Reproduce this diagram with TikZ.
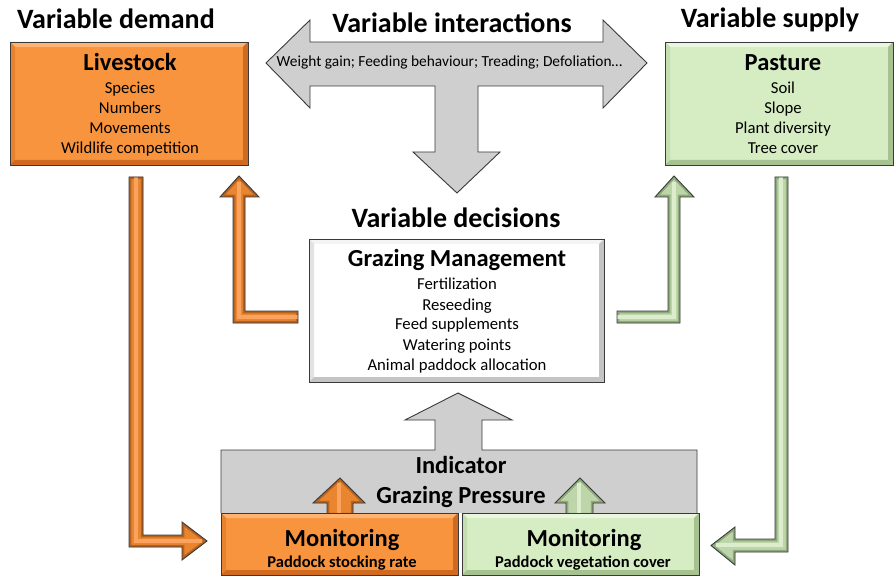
\documentclass[tikz,border=0pt]{standalone}
\usepackage{fontspec}
\setmainfont{Carlito}

% colours
\definecolor{ormain}{HTML}{F9943E}
\definecolor{orlight}{HTML}{FDB472}
\definecolor{orside}{HTML}{E8822F}
\definecolor{ordark}{HTML}{CF6A20}
\definecolor{oamain}{HTML}{E9852F}
\definecolor{oadark}{HTML}{B86220}
\definecolor{oalight}{HTML}{F9A35E}
\definecolor{grmain}{HTML}{D6EDC3}
\definecolor{grlight}{HTML}{E9F7DE}
\definecolor{grside}{HTML}{C4DEB0}
\definecolor{grdark}{HTML}{A6C290}
\definecolor{gamain}{HTML}{BDD5A9}
\definecolor{gadark}{HTML}{8EA97C}
\definecolor{galight}{HTML}{DCEDCD}
\definecolor{whmain}{HTML}{FFFFFF}
\definecolor{whlight}{HTML}{F4F4F4}
\definecolor{whside}{HTML}{E2E2E2}
\definecolor{whdark}{HTML}{C4C4C4}
\definecolor{greyfill}{HTML}{D0CFD0}
\definecolor{edgecol}{HTML}{3A3A3A}

\tikzset{
  edge/.style={draw=edgecol, line width=0.9pt, line join=miter},
  headline/.style={font=\fontsize{28}{32}\selectfont\bfseries, anchor=base, inner sep=0pt},
  boxtitle/.style={font=\fontsize{24.5}{28}\selectfont\bfseries, anchor=base, inner sep=0pt},
  listline/.style={font=\fontsize{16.7}{20}\selectfont, anchor=base, inner sep=0pt},
  subline/.style={font=\fontsize{16.5}{20}\selectfont\bfseries, anchor=base, inner sep=0pt},
}

% rectangle with a bevelled rim: x1,y1,x2,y2,colour prefix
\newcommand\bevelbox[5]{%
  \fill[#5main] (#1,#2) rectangle (#3,#4);
  \fill[#5light] (#1,#2) -- (#3,#2) -- (#3-5,#2+5) -- (#1+5,#2+5) -- cycle;
  \fill[#5side] (#1,#2) -- (#1+5,#2+5) -- (#1+5,#4-5) -- (#1,#4) -- cycle;
  \fill[#5dark] (#3,#2) -- (#3,#4) -- (#3-5,#4-5) -- (#3-5,#2+5) -- cycle;
  \fill[#5dark] (#1,#4) -- (#3,#4) -- (#3-5,#4-5) -- (#1+5,#4-5) -- cycle;
  \draw[edge] (#1,#2) rectangle (#3,#4);}

% block arrow with a shaded rim: outline, ridge line, colour prefix
\newcommand\blockarrow[3]{%
  \begin{scope}
    \clip #1;
    \fill[#3main] #1;
    \draw[#3dark, line width=4.5pt, line join=miter] #1;
    \draw[#3light, line width=4pt, line join=miter] #2;
  \end{scope}
  \draw[edge] #1;}

\begin{document}
\begin{tikzpicture}[x=1pt, y=-1pt]
\useasboundingbox (0,0) rectangle (894,577);

% interactions: three-way grey arrow
\draw[edge, fill=greyfill]
  (266,63) -- (310,20) -- (310,42) -- (603,42) -- (603,20) -- (647,63)
  -- (603,108) -- (603,86) -- (478,86) -- (478,152) -- (500,152)
  -- (457,193) -- (413,152) -- (435,152) -- (435,86) -- (310,86)
  -- (310,108) -- cycle;

% demand and supply boxes
\bevelbox{10}{42}{248}{165}{or}
\bevelbox{665}{42}{893}{165}{gr}

% decisions feeding back to livestock and pasture
\blockarrow{(298,311) -- (245,311) -- (245,197) -- (259,197) -- (239,176)
  -- (220,197) -- (233,197) -- (233,323) -- (298,323) -- cycle}
  {(298,316.5) -- (238.5,316.5) -- (238.5,182)}{oa}
\blockarrow{(617,311) -- (668,311) -- (668,197) -- (655,197) -- (674,176)
  -- (694,197) -- (680,197) -- (680,323) -- (617,323) -- cycle}
  {(617,316.5) -- (673.5,316.5) -- (673.5,182)}{ga}

% decisions box
\bevelbox{309}{239}{604}{382}{wh}

% livestock and pasture down to monitoring
\blockarrow{(129,177) -- (143,177) -- (143,535) -- (182,535) -- (182,522)
  -- (207,541) -- (182,560) -- (182,547) -- (129,547) -- cycle}
  {(135.5,177) -- (135.5,540.5) -- (202,540.5)}{oa}
\blockarrow{(775,177) -- (788,177) -- (788,552) -- (735,552) -- (735,565)
  -- (711,545.5) -- (735,527) -- (735,539) -- (775,539) -- cycle}
  {(781,177) -- (781,545) -- (716,545)}{ga}

% indicator block with its arrow up to the decisions box
\draw[edge, fill=greyfill]
  (221,513) -- (221,450) -- (435,450) -- (435,420) -- (405,420) -- (458,393)
  -- (512,420) -- (482,420) -- (482,450) -- (697,450) -- (697,513);

% monitoring feeding the indicator
\blockarrow{(327,515) -- (327,503) -- (313,503) -- (340,478) -- (365,503)
  -- (353,503) -- (353,515) -- cycle}
  {(339,515) -- (339,483)}{oa}
\blockarrow{(566,515) -- (566,503) -- (555,503) -- (580,478) -- (605,503)
  -- (593,503) -- (593,515) -- cycle}
  {(578.5,515) -- (578.5,483)}{ga}

% monitoring boxes
\bevelbox{221}{513}{458}{575}{or}
\bevelbox{462}{513}{699}{575}{gr}

% headings
\node[headline] (hdemand) at (116,29) {Variable demand};
\node[headline] (hinter) at (452,33) {Variable interactions};
\node[headline] (hsupply) at (770,28) {Variable supply};
\node[headline] (hdecide) at (456,228) {Variable decisions};

% box texts
\node[boxtitle] (livestock) at (130,71) {Livestock};
\node[listline] (ls1) at (130,94) {Species};
\node[listline] (ls2) at (130,114) {Numbers};
\node[listline] (ls3) at (130,134) {Movements};
\node[listline] (ls4) at (130,154) {Wildlife competition};

\node[boxtitle] (pasture) at (783,71) {Pasture};
\node[listline] (ps1) at (783,94) {Soil};
\node[listline] (ps2) at (783,114) {Slope};
\node[listline] (ps3) at (783,134) {Plant diversity};
\node[listline] (ps4) at (783,154) {Tree cover};

\node[listline, font=\fontsize{15.4}{18}\selectfont] (inter) at (449.5,67)
  {Weight gain; Feeding behaviour; Treading; Defoliation\ldots};

\node[boxtitle] (mgmt) at (457,267) {Grazing Management};
\node[listline] (gm1) at (457,290) {Fertilization};
\node[listline] (gm2) at (457,310) {Reseeding};
\node[listline] (gm3) at (457,330) {Feed supplements};
\node[listline] (gm4) at (457,350) {Watering points};
\node[listline] (gm5) at (457,370) {Animal paddock allocation};

\node[boxtitle] (indicator) at (461,473) {Indicator};
\node[boxtitle] (pressure) at (461,503) {Grazing Pressure};

\node[boxtitle] (monA) at (342,546) {Monitoring};
\node[subline] (monAsub) at (342,567) {Paddock stocking rate};
\node[boxtitle] (monB) at (584,546) {Monitoring};
\node[subline] (monBsub) at (583,567) {Paddock vegetation cover};
\end{tikzpicture}
\end{document}
